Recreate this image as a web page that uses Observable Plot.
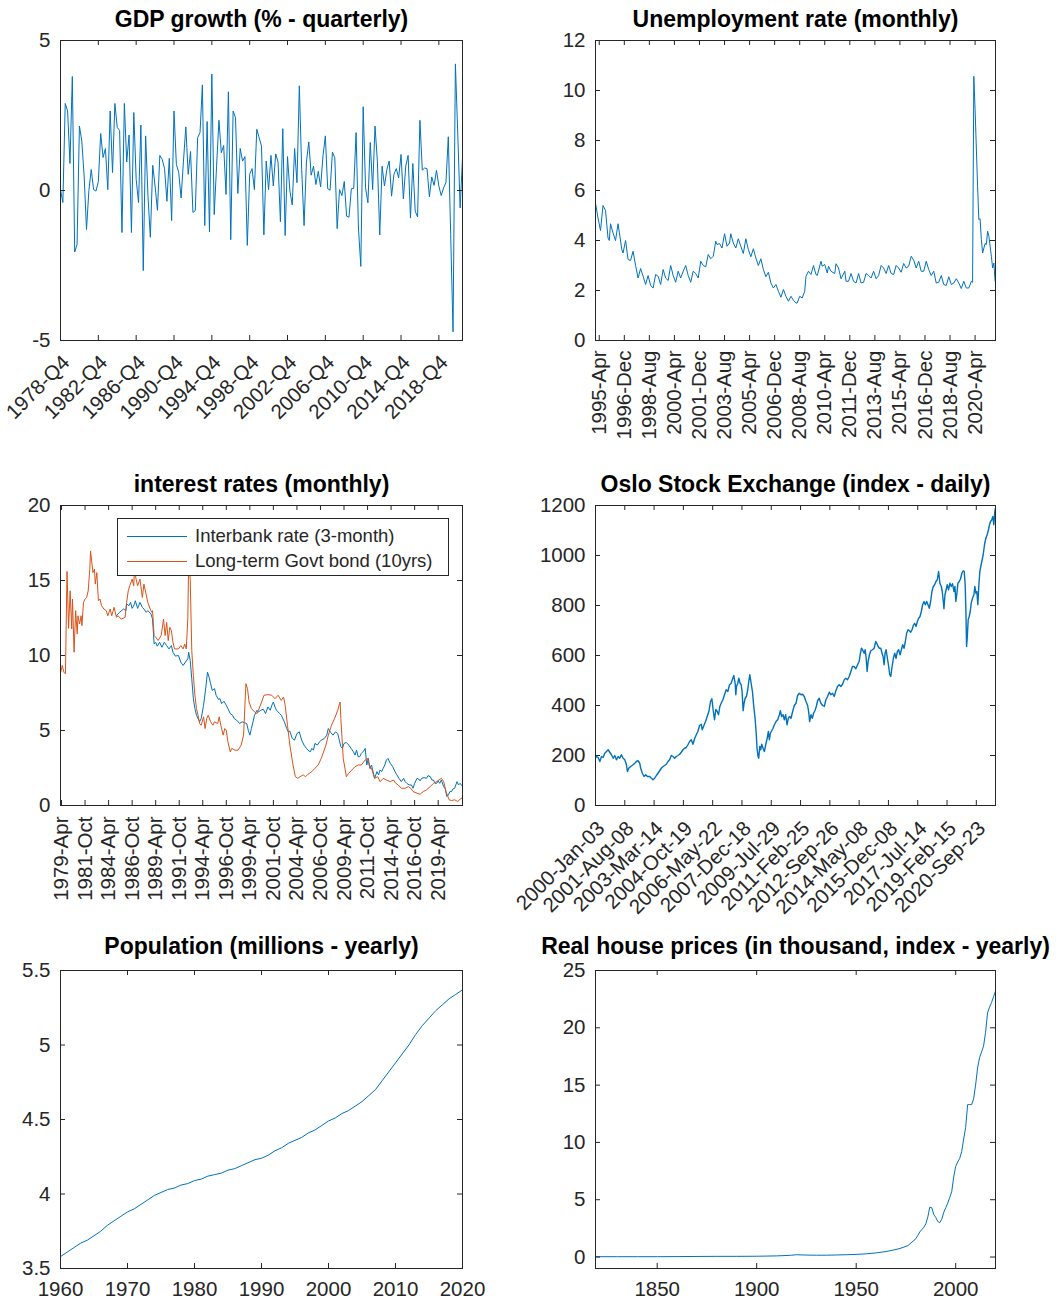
<!DOCTYPE html>
<html><head><meta charset="utf-8">
<script src="https://cdn.jsdelivr.net/npm/d3@7"></script>
<script src="https://cdn.jsdelivr.net/npm/@observablehq/plot@0.6"></script>
<style>
body{margin:0;background:#fff;}
#root{position:relative;width:1059px;height:1304px;overflow:hidden;font-family:"Liberation Sans",Arial,sans-serif;}
.legend{position:absolute;background:#fff;border:1px solid #262626;box-sizing:border-box;font-size:18.5px;color:#262626;}
.legend .row{position:absolute;left:0;right:0;height:22px;line-height:22px;white-space:nowrap;}
.legend .sw{position:absolute;left:9px;width:60px;top:11px;border-top:1px solid;}
.legend .lab{position:absolute;left:77px;top:0;}
</style></head><body><div id="root"></div>
<script>
// ---------------- DATA ----------------
const gdpTickIndex = [0,16,32,48,64,80,96,112,128,144,160];
const gdpTickLabels = ["1978-Q4","1982-Q4","1986-Q4","1990-Q4","1994-Q4","1998-Q4","2002-Q4","2006-Q4","2010-Q4","2014-Q4","2018-Q4"];
const gdpGrowth = [0.03,-0.4,2.9,2.65,0.9,3.8,-2.05,-1.8,2.15,1.65,
0.48,-1.3,0,0.7,0.03,-0.02,0.3,1.9,1.1,1.4,
0.03,2.65,0.6,2.9,2.1,2.0,-1.4,2.9,0.95,1.85,
-1.4,2.6,0.37,-0.4,2.18,-2.67,1.82,-0.2,-1.56,0.84,
0.15,-0.66,1.17,1.04,0.73,-0.36,1.07,-1.0,2.65,0.87,
0.6,-0.25,0.98,2.12,0.54,1.3,-0.73,-0.67,1.76,1.93,
3.52,-1.17,2.3,-1.38,3.88,-0.8,0.81,2.34,1.26,1.5,
-0.13,3.29,-1.64,2.65,2.43,-0.1,1.4,0.98,1.13,-1.83,
0.54,0.73,0.03,2.04,1.76,1.48,-1.48,0.98,0.03,1.17,
0.15,1.22,0.95,-1.04,2.06,-1.5,1.13,-0.02,-0.48,1.4,
0.26,3.49,0.7,-1.17,0.95,1.62,0.51,0.81,0.2,0.64,
0.12,1.15,1.82,0.06,0.01,1.28,1.09,-1.27,0.03,-0.17,
0.3,-0.86,-0.89,0.06,0.07,1.93,-1.25,-2.53,2.79,0.09,
-0.41,1.6,0.03,2.15,0.98,-1.48,0.81,0.15,0.7,0.98,
-0.19,0.54,0.73,0.42,1.2,-0.28,0.81,1.17,-0.92,0.9,
-0.69,-0.88,2.34,0.68,0.75,0.73,-0.21,0.45,0.17,0.67,
0.15,-0.17,0.09,0.26,1.79,-1.47,-4.71,4.22,1.88,-0.58,
1.08];

// months counted from 1995-Jan
const unempTickMonth = [3,23,43,63,83,103,123,143,163,183,203,223,243,263,283,303];
const unempTickLabels = ["1995-Apr","1996-Dec","1998-Aug","2000-Apr","2001-Dec","2003-Aug","2005-Apr","2006-Dec","2008-Aug","2010-Apr","2011-Dec","2013-Aug","2015-Apr","2016-Dec","2018-Aug","2020-Apr"];
const unempMonth = [0,2,4,6,8,10,11,12,14,16,18,21,22,24,26,28,30,32,34,36,38,40,42,44,46,48,50,52,54,56,58,60,62,64,66,68,70,72,74,76,78,80,82,84,86,88,90,92,94,96,97,99,101,103,105,107,108,110,112,114,116,118,120,122,124,126,128,130,132,134,136,138,140,142,144,146,148,150,152,154,156,158,160,161,163,165,167,168,170,172,174,176,177,180,181,183,185,186,188,191,192,194,196,199,200,202,204,206,208,210,212,214,216,218,220,222,224,226,228,230,232,234,236,238,240,242,244,246,248,250,252,254,256,258,260,262,264,266,268,270,272,274,276,278,280,282,284,286,288,290,292,294,296,298,300,301,302,303,305,306,307,308,309,311,312,313,314,316,317,318,319];
const unempRate = [5.5,4.9,4.4,5.4,5.2,4.1,4.0,4.67,4.3,4.0,
4.67,3.64,3.5,4.0,3.24,3.2,3.57,3.0,2.5,2.88,
2.57,2.24,2.6,2.2,2.1,2.64,2.57,2.24,2.84,2.5,
2.4,3.0,2.6,2.33,2.77,2.5,2.77,3.0,2.6,2.33,
2.77,2.68,2.5,3.17,3.0,2.95,3.44,3.27,3.37,3.97,
3.84,3.88,3.7,4.27,3.77,3.9,4.27,3.9,3.7,4.07,
3.77,3.48,4.07,3.64,3.35,3.67,3.3,3.0,3.27,2.84,
2.55,2.73,2.3,2.1,2.24,1.97,1.73,2.04,1.77,1.57,
1.77,1.61,1.5,1.5,1.77,1.7,1.97,2.57,2.77,2.64,
3.0,2.64,2.6,3.17,2.97,3.04,2.7,2.97,2.77,2.68,
3.07,2.9,2.47,2.77,2.37,2.37,2.68,2.37,2.3,2.68,
2.3,2.33,2.68,2.6,2.5,2.77,2.47,2.6,3.0,2.9,
2.68,3.0,2.68,2.64,3.0,2.9,2.73,3.08,2.9,2.97,
3.37,3.21,2.9,3.17,2.77,2.77,3.17,2.84,2.6,2.77,
2.3,2.33,2.6,2.24,2.2,2.55,2.24,2.3,2.47,2.3,
2.08,2.37,2.1,2.1,2.37,2.33,10.57,9.24,6.17,4.84,
4.87,4.04,3.5,3.88,3.84,4.37,4.17,3.37,2.9,3.1,
2.37];

// months counted from 1979-Apr
const rateTickMonth = [0,30,60,90,120,150,180,210,240,270,300,330,360,390,420,450,480];
const rateTickLabels = ["1979-Apr","1981-Oct","1984-Apr","1986-Oct","1989-Apr","1991-Oct","1994-Apr","1996-Oct","1999-Apr","2001-Oct","2004-Apr","2006-Oct","2009-Apr","2011-Oct","2014-Apr","2016-Oct","2019-Apr"];
const bondMonth = [-1,1,3,5,7,9,11,13,14,16,18,20,21,23,25,26,28,30,32,34,36,37,40,42,43,45,47,49,51,54,57,59,62,64,67,70,72,76,81,83,85,87,90,92,93,95,97,100,103,105,110,113,115,116,118,120,123,127,130,132,134,136,138,140,142,144,149,152,155,157,159,161,162,164,166,168,170,172,174,176,178,181,183,185,187,190,193,195,199,201,203,206,208,210,212,215,217,221,225,229,232,235,237,239,242,246,249,251,255,258,263,268,272,276,280,283,285,288,291,295,298,301,304,308,311,314,319,323,327,331,337,340,344,348,352,355,356,359,363,366,370,374,378,382,387,390,393,395,399,403,406,410,414,419,423,426,429,433,438,442,445,448,453,457,461,465,470,474,478,484,487,490,494,497,501,505,508,510];
const bondRate = [8.89,9.34,8.89,8.78,15.6,11.81,14.31,11.77,13.76,10.22,12.99,11.44,12.65,12.1,12.65,11.99,13.54,13.76,13.87,14.31,15.75,16.97,15.53,15.75,14.76,15.53,13.65,13.76,13.32,13.1,12.99,12.65,13.1,12.65,13.21,12.54,12.65,12.43,12.54,13.54,14.31,14.65,15.09,14.65,15.75,15.09,14.65,15.09,13.87,14.76,13.54,13.1,12.88,12.99,11.33,11.22,11.0,11.33,12.43,11.33,12.21,11.0,11.88,11.66,10.88,10.44,10.44,10.66,10.44,10.77,10.44,12.54,16.3,15.09,10.33,8.67,7.35,6.46,6.02,5.46,5.35,5.91,5.13,5.8,6.02,5.58,5.35,5.58,5.46,5.91,5.35,4.69,5.13,5.02,4.25,3.58,3.81,3.69,3.69,4.03,4.69,8.12,7.79,6.9,6.46,6.24,6.13,6.35,6.9,7.35,7.39,7.35,7.12,7.35,7.01,7.23,6.68,5.35,4.03,2.7,1.92,1.81,1.92,2.04,1.92,2.08,2.26,2.48,2.7,3.14,4.03,4.69,5.35,5.8,6.35,6.9,5.8,3.14,1.92,2.15,2.37,2.59,2.7,2.7,3.03,3.14,2.48,2.48,1.81,1.92,1.59,1.81,1.7,1.59,1.7,1.48,1.37,1.15,1.15,1.26,1.15,0.93,0.82,0.75,0.93,1.04,1.26,1.48,1.59,1.81,1.59,0.93,0.38,0.33,0.38,0.27,0.42,0.49];
const interbankMonth = [70,74,79,82,83,86,88,90,93,94,97,100,103,105,108,110,114,116,118,120,122,125,128,131,134,137,140,142,145,149,152,155,158,161,162,164,166,168,170,172,174,176,178,181,184,186,188,190,192,195,197,200,202,204,207,210,212,215,218,220,223,225,227,230,233,236,238,240,242,244,246,249,251,254,257,260,263,266,268,270,272,274,276,278,280,284,287,289,291,294,297,300,303,306,309,312,314,317,319,321,323,326,329,331,335,338,340,343,346,349,352,354,356,358,360,363,366,369,372,374,376,378,380,382,385,387,389,391,393,395,397,399,402,404,406,408,410,412,414,416,419,422,425,427,430,433,436,438,440,443,446,448,450,453,455,457,459,462,465,467,470,472,474,476,478,480,482,484,487,489,491,493,495,497,499,501,504,506,508,510];
const interbankRate = [12.65,12.88,13.1,12.99,13.43,13.32,13.54,13.14,13.43,13.65,13.14,13.54,13.21,13.1,12.88,12.99,12.77,12.43,10.77,10.88,10.62,10.88,10.55,10.88,10.66,10.44,10.66,10.22,9.96,10.0,9.56,9.34,9.56,9.78,10.22,9.67,8.45,7.12,6.46,6.02,5.8,5.58,5.8,6.68,7.9,8.89,8.56,8.12,7.68,7.79,7.35,7.08,7.12,6.79,6.95,6.68,6.46,6.13,6.02,5.8,5.69,5.58,5.46,5.58,5.53,5.46,5.02,4.69,5.13,5.58,6.02,6.35,6.24,6.35,6.42,6.13,6.57,6.35,6.68,6.9,6.57,6.35,6.24,6.13,6.02,5.58,5.13,4.91,4.96,4.47,4.36,4.8,4.91,4.36,4.03,3.81,3.69,3.58,3.81,3.69,4.14,4.03,4.25,4.36,4.47,4.69,5.13,4.87,4.69,4.91,4.8,4.36,3.92,3.81,4.14,4.2,4.03,3.81,3.58,3.36,3.69,3.25,3.25,3.47,3.63,3.81,2.7,3.14,2.48,2.7,2.26,1.81,2.26,2.04,2.37,2.26,2.48,2.7,3.03,3.14,2.81,2.59,2.26,2.08,1.81,1.59,1.81,1.59,1.48,1.37,1.37,1.15,1.48,1.81,1.77,1.64,1.81,1.86,1.81,1.99,1.92,1.7,1.7,1.48,1.48,1.64,1.48,1.7,1.26,1.11,0.6,0.71,0.93,0.93,1.11,1.15,1.59,1.37,1.48,1.33];

// trading days counted from 2000-Jan-03
const osloTickDay = [0,400,800,1200,1600,2000,2400,2800,3200,3600,4000,4400,4800,5200];
const osloTickLabels = ["2000-Jan-03","2001-Aug-08","2003-Mar-14","2004-Oct-19","2006-May-22","2007-Dec-18","2009-Jul-29","2011-Feb-25","2012-Sep-26","2014-May-08","2015-Dec-08","2017-Jul-14","2019-Feb-15","2020-Sep-23"];
const osloDay = [0,14,36,59,82,104,127,150,173,195,218,241,263,286,309,331,354,377,400,422,436,454,481,513,536,558,581,604,617,640,663,686,708,740,763,785,808,831,854,876,899,922,944,967,990,1012,1035,1058,1081,1103,1126,1149,1171,1194,1217,1239,1262,1285,1308,1330,1353,1376,1398,1421,1444,1457,1480,1503,1525,1548,1571,1589,1607,1625,1643,1662,1680,1698,1716,1739,1762,1784,1807,1830,1852,1875,1889,1907,1916,1925,1943,1957,1975,1989,2002,2016,2029,2043,2061,2079,2093,2107,2125,2143,2161,2179,2193,2206,2220,2229,2243,2256,2270,2288,2306,2324,2343,2361,2374,2388,2406,2424,2443,2465,2488,2511,2524,2542,2561,2579,2597,2615,2633,2651,2670,2692,2715,2738,2760,2783,2806,2828,2851,2874,2897,2910,2924,2942,2960,2978,2996,3015,3033,3055,3078,3101,3124,3146,3169,3192,3214,3237,3260,3282,3305,3328,3351,3373,3396,3419,3441,3464,3487,3509,3532,3555,3578,3600,3614,3632,3646,3668,3682,3696,3709,3723,3741,3759,3782,3805,3827,3841,3859,3877,3895,3913,3927,3941,3954,3968,3986,4000,4018,4032,4050,4068,4086,4104,4122,4140,4159,4177,4195,4213,4231,4249,4268,4286,4304,4322,4340,4358,4377,4395,4413,4431,4449,4467,4486,4504,4522,4540,4558,4576,4594,4613,4631,4649,4667,4685,4703,4722,4735,4749,4758,4772,4785,4803,4821,4840,4858,4876,4894,4908,4921,4935,4949,4967,4985,5003,5021,5035,5048,5058,5067,5076,5089,5103,5117,5130,5148,5167,5180,5194,5207,5221,5235,5248,5266,5280,5294,5312,5330,5348,5366,5380,5394,5412,5425,5439,5453,5462];
const osloIndex = [189,196,192,176,196,192,209,216,223,213,
203,189,200,183,196,189,203,189,183,163,
136,149,156,163,169,176,179,169,149,129,
116,123,116,116,109,103,109,120,129,139,
149,156,160,165,176,183,200,196,189,196,
200,205,213,223,229,232,243,256,263,245,
267,283,296,320,325,303,320,336,356,376,
416,427,381,343,384,376,363,396,409,423,
443,463,456,483,489,509,520,489,443,476,
489,509,489,483,456,379,409,429,436,463,
496,523,489,456,396,349,296,229,196,189,
236,223,245,229,216,243,267,296,263,289,
299,309,323,336,343,363,379,356,363,343,
363,323,349,356,349,376,400,409,440,449,
443,445,436,416,400,376,336,363,349,369,
379,396,419,429,409,400,396,423,436,453,
443,449,436,459,476,483,476,485,503,509,
503,516,536,556,556,547,563,576,603,629,
623,609,623,589,536,576,603,619,623,629,
656,649,636,629,629,609,596,563,609,623,
589,563,523,516,556,589,609,589,616,623,
603,623,643,629,656,689,703,699,693,703,
720,729,716,736,749,756,776,803,816,803,
816,803,789,816,856,876,883,896,903,936,
889,876,856,817,787,843,859,883,863,889,
876,887,856,876,816,849,889,896,907,929,
939,936,883,776,636,669,743,756,776,809,
829,843,876,849,856,803,883,936,963,983,
1003,1043,1069,1083,1103,1123,1136,1143,1156,1123,
1176,1189];

const popYear = [1960,1961,1962,1963,1964,1965,1966,1967,1968,1969,1970,1971,1972,1973,1974,1975,1976,1977,1978,1979,1980,1981,1982,1983,1984,1985,1986,1987,1988,1989,1990,1991,1992,1993,1994,1995,1996,1997,1998,1999,2000,2001,2002,2003,2004,2005,2006,2007,2008,2009,2010,2011,2012,2013,2014,2015,2016,2017,2018,2019,2020];
const popMillions = [3.58,3.61,3.64,3.67,3.69,3.72,3.75,3.79,3.82,3.85,
3.88,3.90,3.93,3.96,3.99,4.01,4.03,4.04,4.06,4.07,
4.09,4.10,4.12,4.13,4.14,4.16,4.17,4.19,4.21,4.23,
4.24,4.26,4.29,4.31,4.34,4.36,4.38,4.41,4.43,4.46,
4.49,4.51,4.54,4.56,4.59,4.62,4.66,4.70,4.76,4.82,
4.88,4.94,5.00,5.07,5.13,5.18,5.23,5.27,5.31,5.34,
5.37];
const popTicks = [1960,1970,1980,1990,2000,2010,2020];

const houseYear = [1819,1830,1840,1850,1860,1870,1880,1890,1900,1910,1917,1920,1925,1930,1935,1940,1945,1950,1955,1960,1965,1970,1972,1974,1976,1977,1978,1979,1980,1981,1982,1983,1984,1985,1986,1987,1988,1989,1990,1991,1992,1993,1994,1995,1996,1997,1998,1999,2000,2001,2002,2003,2004,2005,2006,2007,2008,2009,2010,2011,2012,2013,2014,2015,2016,2017,2018,2019,2020];
const housePrice = [0.03,0.03,0.03,0.03,0.04,0.05,0.06,0.06,0.07,0.1,0.15,0.2,0.17,0.16,0.16,0.18,0.2,0.23,0.28,0.36,0.48,0.66,0.75,0.87,1.0,1.15,1.3,1.45,1.6,1.9,2.2,2.4,2.6,2.9,3.5,4.35,4.3,3.7,3.45,3.1,3.0,3.3,3.9,4.3,4.7,5.2,5.7,7.0,7.9,8.3,8.6,9.2,10.3,11.3,13.3,13.3,13.3,13.8,15.0,16.5,17.4,17.9,18.4,19.6,21.3,21.8,22.2,22.7,23.2];
const houseTicks = [1850,1900,1950,2000];

const titles = ["GDP growth (% - quarterly)","Unemployment rate (monthly)","interest rates (monthly)","Oslo Stock Exchange (index - daily)","Population (millions - yearly)","Real house prices (in thousand, index - yearly)"];
const legendLabels = ["Interbank rate (3-month)","Long-term Govt bond (10yrs)"];

// ---------------- DRAW ----------------
const INK = "#262626", BLUE = "#0072BD", ORANGE = "#D95319";
const TICK_FONT = 20.5, TITLE_FONT = 23;
const root = document.getElementById("root");

function panel(o) {
  const fw = o.width - o.ml - o.mr, fh = o.height - o.mt - o.mb, T = 5;
  const labs = o.xLabels ? new Map(o.xTicks.map((t, i) => [t, o.xLabels[i]])) : null;
  const marks = [];
  for (const s of o.series) {
    const rows = s.x.map((x, i) => ({x, y: s.y[i]}));
    marks.push(Plot.line(rows, {x: "x", y: "y", stroke: s.color, strokeWidth: s.w || 1, clip: true}));
  }
  marks.push(
    Plot.tickX(o.xTicks, {x: d => d, stroke: INK, strokeWidth: 1, insetTop: fh - T}),
    Plot.tickX(o.xTicks, {x: d => d, stroke: INK, strokeWidth: 1, insetBottom: fh - T}),
    Plot.tickY(o.yTicks, {y: d => d, stroke: INK, strokeWidth: 1, insetRight: fw - T}),
    Plot.tickY(o.yTicks, {y: d => d, stroke: INK, strokeWidth: 1, insetLeft: fw - T}),
    Plot.frame({stroke: INK, strokeWidth: 1}),
    Plot.axisX(o.xTicks, {
      anchor: "bottom", tickSize: 0, tickPadding: o.xPad, tickRotate: o.rotate || 0,
      textAnchor: o.xTextAnchor, lineAnchor: o.xLineAnchor,
      tickFormat: d => labs ? labs.get(d) : String(d),
      fontSize: TICK_FONT, fill: INK, label: null
    }),
    Plot.axisY(o.yTicks, {
      anchor: "left", tickSize: 0, tickPadding: 10, textAnchor: "end", lineAnchor: "middle",
      tickFormat: d => String(d), fontSize: TICK_FONT, fill: INK, label: null
    }),
    Plot.text([o.title], {text: d => d, frameAnchor: "top", dy: o.titleDy || -14, lineAnchor: "bottom",
      fontWeight: "bold", fontSize: TITLE_FONT, fill: "#000"})
  );
  const svg = Plot.plot({
    width: o.width, height: o.height,
    marginLeft: o.ml, marginRight: o.mr, marginTop: o.mt, marginBottom: o.mb,
    x: {domain: o.xDomain},
    y: {domain: o.yDomain},
    style: {fontFamily: '"Liberation Sans", Arial, sans-serif', fontSize: TICK_FONT + "px",
      color: INK, background: "transparent", overflow: "visible"},
    marks
  });
  svg.style.position = "absolute";
  svg.style.left = o.left + "px";
  svg.style.top = o.top + "px";
  root.appendChild(svg);
}

const L = {left: 0, width: 530, ml: 60, mr: 68};
const R = {left: 500, width: 559, ml: 95, mr: 64};
const row1 = {top: 0, height: 465, mt: 40, mb: 125};
const row2 = {top: 465, height: 465, mt: 40, mb: 125};
const row3 = {top: 930, height: 374, mt: 40, mb: 36, titleDy: -17};

panel({...L, ...row1, title: titles[0], xDomain: [0, 170], yDomain: [-5, 5],
  xTicks: gdpTickIndex, xLabels: gdpTickLabels, yTicks: [-5, 0, 5],
  rotate: -45, xTextAnchor: "end", xLineAnchor: "top", xPad: 13,
  series: [{x: gdpGrowth.map((_, i) => i), y: gdpGrowth, color: BLUE}]});

panel({...R, ...row1, title: titles[1], xDomain: [0, 319.3], yDomain: [0, 12],
  xTicks: unempTickMonth, xLabels: unempTickLabels, yTicks: [0, 2, 4, 6, 8, 10, 12],
  rotate: -90, xTextAnchor: "end", xLineAnchor: "middle", xPad: 10,
  series: [{x: unempMonth, y: unempRate, color: BLUE}]});

panel({...L, ...row2, title: titles[2], xDomain: [-1.3, 511], yDomain: [0, 20],
  xTicks: rateTickMonth, xLabels: rateTickLabels, yTicks: [0, 5, 10, 15, 20],
  rotate: -90, xTextAnchor: "end", xLineAnchor: "middle", xPad: 11,
  series: [{x: interbankMonth, y: interbankRate, color: BLUE}, {x: bondMonth, y: bondRate, color: ORANGE}]});

panel({...R, ...row2, title: titles[3], xDomain: [0, 5462], yDomain: [0, 1200],
  xTicks: osloTickDay, xLabels: osloTickLabels, yTicks: [0, 200, 400, 600, 800, 1000, 1200],
  rotate: -45, xTextAnchor: "end", xLineAnchor: "top", xPad: 14,
  series: [{x: osloDay, y: osloIndex, color: BLUE, w: 1.4}]});

panel({...L, ...row3, title: titles[4], xDomain: [1960, 2020], yDomain: [3.5, 5.5],
  xTicks: popTicks, yTicks: [3.5, 4, 4.5, 5, 5.5],
  rotate: 0, xTextAnchor: "middle", xLineAnchor: "top", xPad: 13,
  series: [{x: popYear, y: popMillions, color: BLUE}]});

panel({...R, ...row3, title: titles[5], xDomain: [1819, 2020], yDomain: [-1, 25],
  xTicks: houseTicks, yTicks: [0, 5, 10, 15, 20, 25],
  rotate: 0, xTextAnchor: "middle", xLineAnchor: "top", xPad: 13,
  series: [{x: houseYear, y: housePrice, color: BLUE}]});

// legend for the interest-rate panel
const lg = document.createElement("div");
lg.className = "legend";
Object.assign(lg.style, {left: "117px", top: "518px", width: "332px", height: "58px"});
[[BLUE, legendLabels[0], 6], [ORANGE, legendLabels[1], 31]].forEach(([c, t, y]) => {
  const r = document.createElement("div");
  r.className = "row"; r.style.top = y + "px";
  const sw = document.createElement("span"); sw.className = "sw"; sw.style.borderColor = c;
  const lb = document.createElement("span"); lb.className = "lab"; lb.textContent = t;
  r.appendChild(sw); r.appendChild(lb); lg.appendChild(r);
});
root.appendChild(lg);
</script></body></html>
